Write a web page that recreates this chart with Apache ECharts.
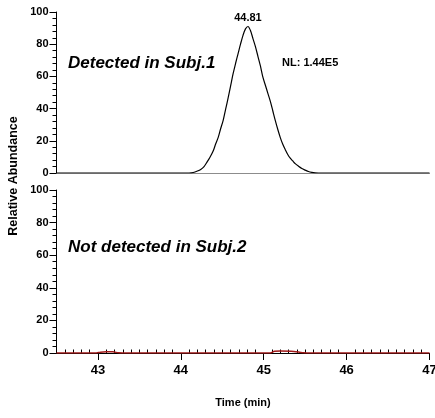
<!DOCTYPE html>
<html>
<head>
<meta charset="utf-8">
<script src="https://cdn.jsdelivr.net/npm/echarts@6/dist/echarts.min.js"></script>
<style>
  html, body { margin: 0; padding: 0; background: #fff; }
  #chart { width: 435px; height: 418px; }
</style>
</head>
<body>
<div id="chart"></div>
<script>
const FONT = '"Liberation Sans", Arial, Helvetica, sans-serif';

// Retention-time window (min) and axis ticks
const timeRange = [42.5, 47];
const majorTimeTicks = [43, 44, 45, 46, 47];
const abundanceTicks = [0, 20, 40, 60, 80, 100];

// Extracted ion chromatogram, subject 1 (relative abundance, %)
const subj1Time = [42.5, 44.10, 44.15, 44.20, 44.24, 44.28, 44.31, 44.35, 44.39, 44.42,
  44.45, 44.48, 44.51, 44.54, 44.57, 44.60, 44.63, 44.66, 44.69, 44.72,
  44.75, 44.78, 44.81, 44.84, 44.87, 44.90, 44.93, 44.96, 44.99, 45.02,
  45.05, 45.08, 45.11, 45.14, 45.17, 45.20, 45.23, 45.26, 45.29, 45.32,
  45.35, 45.38, 45.42, 45.46, 45.50, 45.54, 45.58, 45.62, 45.66, 47];
const subj1Abund = [0, 0, 0.3, 1.2, 2.2, 4.0, 6.3, 9.6, 13.6, 18.0,
  22.0, 27.5, 32.5, 39.5, 46.5, 54.0, 61.5, 68.0, 74.0, 80.0,
  85.5, 89.5, 91.0, 88.5, 83.5, 78.5, 72.5, 66.5, 59.5, 54.5,
  49.5, 44.5, 38.5, 32.5, 27.0, 22.0, 17.8, 14.5, 11.5, 9.2,
  7.5, 5.8, 4.2, 2.8, 1.8, 0.9, 0.4, 0.1, 0, 0];

// Apex of the subject 1 peak
const peakTime = 44.81;
const peakAbund = 91.0;

// Same transition, subject 2
const subj2Time = [42.5, 42.98, 43.03, 43.10, 43.18, 43.25, 43.30,
  45.08, 45.13, 45.20, 45.33, 45.42, 45.48, 45.52, 47];
const subj2Abund = [0, 0, 0.5, 0.8, 0.7, 0.1, 0,
  0, 1.1, 1.2, 1.1, 0.6, 0.1, 0, 0];

const normLevel = 'NL: 1.44E5';
const panelLabels = ['Detected in Subj.1', 'Not detected in Subj.2'];

const zip = (xs, ys) => xs.map((x, i) => [x, ys[i]]);

// minor time ticks every 0.1 min
const minorTimeTicks = [];
for (let k = Math.round(timeRange[0] * 10); k <= Math.round(timeRange[1] * 10); k++) {
  const v = k / 10;
  if (!majorTimeTicks.includes(v)) minorTimeTicks.push(v);
}

const gridLeft = 56.5, gridWidth = 373;
const grids = [
  { left: gridLeft, top: 12, width: gridWidth, height: 161, outerBoundsMode: 'none' },
  { left: gridLeft, top: 190, width: gridWidth, height: 163, outerBoundsMode: 'none' }
];

function yAxisFor(gridIndex) {
  return {
    type: 'value', gridIndex, min: abundanceTicks[0], max: abundanceTicks[abundanceTicks.length - 1], interval: 20,
    axisLine: { show: true, lineStyle: { color: '#000', width: 1 } },
    axisTick: { show: true, length: 7, lineStyle: { color: '#000', width: 1 } },
    minorTick: { show: true, splitNumber: 5, length: 4, lineStyle: { color: '#000', width: 1 } },
    splitLine: { show: false },
    axisLabel: { show: true, margin: 8, fontFamily: FONT, fontWeight: 'bold', fontSize: 11, color: '#000' }
  };
}

const option = {
  animation: false,
  backgroundColor: '#fff',
  grid: grids,
  xAxis: [
    {
      type: 'value', gridIndex: 0, min: timeRange[0], max: timeRange[1],
      axisLine: { show: true, onZero: false, lineStyle: { color: '#8c8c8c', width: 1 } },
      axisTick: { show: false }, axisLabel: { show: false }, splitLine: { show: false }
    },
    {
      type: 'value', gridIndex: 1, min: timeRange[0], max: timeRange[1],
      axisLine: { show: true, onZero: false, lineStyle: { color: '#000', width: 1 } },
      axisTick: { show: true, length: 7, customValues: majorTimeTicks, lineStyle: { color: '#000', width: 1 } },
      axisLabel: { show: true, customValues: majorTimeTicks, margin: 11, fontFamily: FONT, fontWeight: 'bold', fontSize: 13, color: '#000' },
      splitLine: { show: false },
      name: 'Time (min)', nameLocation: 'middle', nameGap: 44,
      nameTextStyle: { fontFamily: FONT, fontWeight: 'bold', fontSize: 11, color: '#000' }
    },
    {
      type: 'value', gridIndex: 1, min: timeRange[0], max: timeRange[1],
      axisLine: { show: false },
      axisTick: { show: true, length: 3.5, customValues: minorTimeTicks, lineStyle: { color: '#000', width: 1 } },
      axisLabel: { show: false }, splitLine: { show: false }
    }
  ],
  yAxis: [yAxisFor(0), yAxisFor(1)],
  graphic: [
    {
      type: 'text', left: 68, top: 55,
      style: { text: panelLabels[0], font: 'italic bold 17px ' + FONT, fill: '#000' }
    },
    {
      type: 'text', left: 282, top: 57,
      style: { text: normLevel, font: 'bold 11px ' + FONT, fill: '#000' }
    },
    {
      type: 'text', left: 68, top: 239,
      style: { text: panelLabels[1], font: 'italic bold 17px ' + FONT, fill: '#000' }
    },
    {
      type: 'text', x: 14, y: 176, rotation: Math.PI / 2,
      style: { text: 'Relative Abundance', font: 'bold 12.5px ' + FONT, fill: '#000', align: 'center', verticalAlign: 'middle' }
    }
  ],
  series: [
    {
      type: 'line', xAxisIndex: 0, yAxisIndex: 0,
      data: zip(subj1Time, subj1Abund),
      symbol: 'none', smooth: 0.3,
      lineStyle: { color: '#000', width: 1.2 }, z: 3
    },
    {
      type: 'scatter', xAxisIndex: 0, yAxisIndex: 0,
      data: [[peakTime, peakAbund]],
      symbolSize: 0, itemStyle: { color: '#000', opacity: 1 },
      label: {
        show: true, position: 'top', distance: 3,
        formatter: p => p.value[0].toFixed(2),
        fontFamily: FONT, fontWeight: 'bold', fontSize: 11, color: '#000', opacity: 1
      },
      emphasis: { disabled: true },
      z: 4
    },
    {
      type: 'line', xAxisIndex: 1, yAxisIndex: 1,
      data: zip(subj2Time, subj2Abund),
      symbol: 'none', smooth: 0.3,
      lineStyle: { color: '#a01818', width: 1.5 }, z: 3
    }
  ]
};

const chart = echarts.init(document.getElementById('chart'), null, { renderer: 'canvas' });
chart.setOption(option);
</script>
</body>
</html>
